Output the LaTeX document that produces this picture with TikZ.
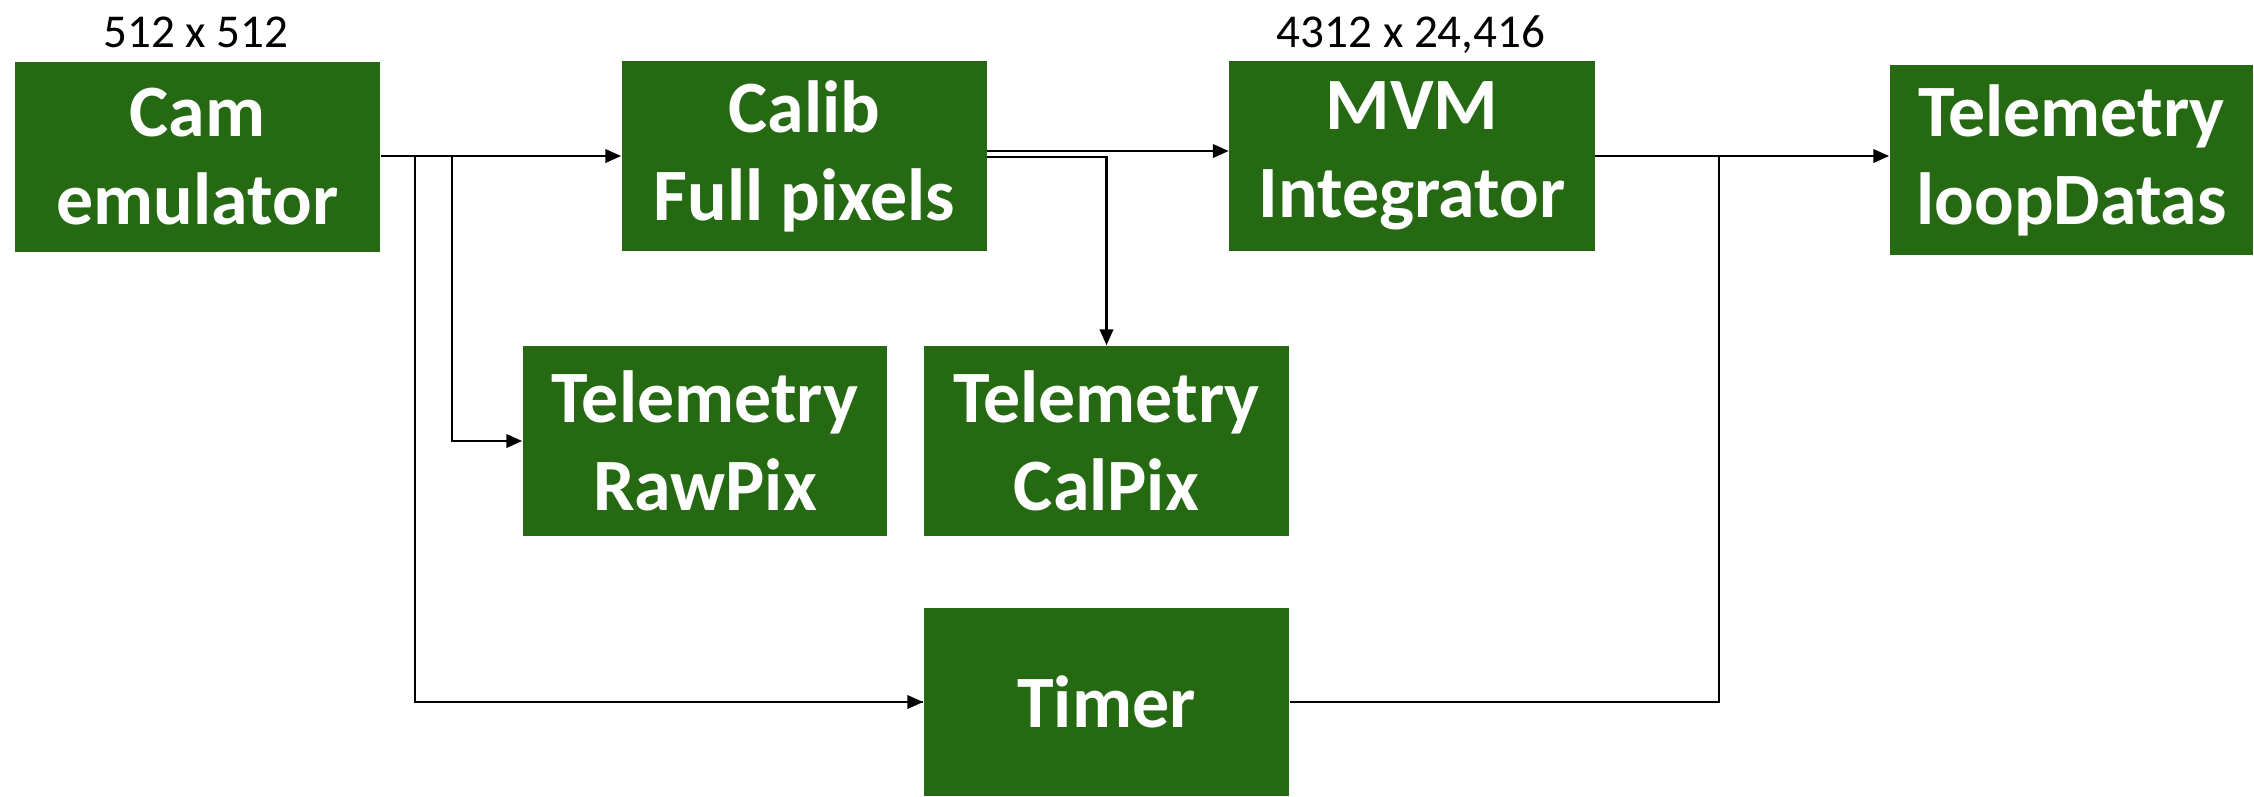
\documentclass[tikz,border=0pt]{standalone}
\usepackage{fontspec}
\setmainfont{Carlito}
\usetikzlibrary{arrows.meta}
\definecolor{boxgreen}{RGB}{38,105,19}
\begin{document}
\begin{tikzpicture}[x=0.01cm,y=-0.01cm,
  blk/.style={draw=none,fill=boxgreen,text=white,inner sep=0pt,align=center,
    minimum width=3.65cm,minimum height=1.9cm,
    font=\fontsize{21}{25}\selectfont\bfseries},
  dimlbl/.style={inner sep=0pt,anchor=base,font=\fontsize{13.4}{16}\selectfont},
  conn/.style={line width=0.7pt,black},
  arr/.style={conn,-{Triangle[length=4.5pt,width=3.8pt]}}]
\useasboundingbox (0,0) rectangle (2254,796);
% boxes
\node[blk] (cam) at (197.5,157) {Cam\\emulator};
\node[blk] (calib) at (804.5,156) {Calib\\Full pixels};
\node[blk] (mvm) at (1412,156) {MVM\\Integrator};
\node[blk,minimum width=3.63cm] (loop) at (2071.5,160) {Telemetry\\loopDatas};
\node[blk,minimum width=3.64cm] (raw) at (705,441) {Telemetry\\RawPix};
\node[blk] (cal) at (1106.5,441) {Telemetry\\CalPix};
\node[blk,minimum height=1.88cm] (timer) at (1106.5,702) {Timer};
% labels
\node[dimlbl] (l1) at (196,47) {512 x 512};
\node[dimlbl] (l2) at (1411,47) {4312 x 24,416};
% junction coordinates
\coordinate (j1) at (415,156);
\coordinate (j2) at (452,156);
\coordinate (j3) at (1719,156);
\coordinate (c1) at (987,151);
\coordinate (c2) at (987,157);
% connectors
\draw[arr] (cam.east |- j1) -- (calib.west |- j1);
\draw[conn] (j1) |- (timer.west) ;
\draw[arr] (j1 |- timer.west) -- (timer.west);
\draw[arr] (j2) |- (raw.west);
\draw[arr] (c1) -- (mvm.west |- c1);
\draw[arr] (c2) -| (cal.north);
\draw[arr] (mvm.east |- j3) -- (loop.west |- j3);
\draw[conn] (timer.east) -| (j3);
\end{tikzpicture}
\end{document}
